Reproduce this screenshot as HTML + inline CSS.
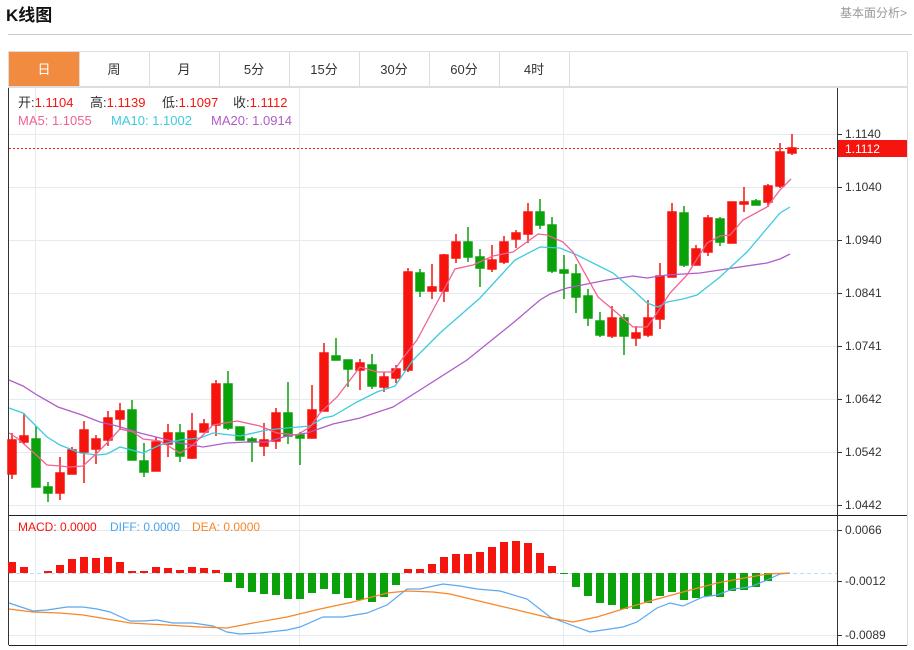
<!DOCTYPE html>
<html><head><meta charset="utf-8"><style>
body{margin:0;width:914px;height:650px;background:#fff;overflow:hidden;font-family:"Liberation Sans","Noto Sans CJK SC",sans-serif;}
svg text{font-family:"Liberation Sans","Noto Sans CJK SC",sans-serif;}
</style></head><body>
<svg width="914" height="650" xmlns="http://www.w3.org/2000/svg" style="position:absolute;left:0;top:0">
<text x="6" y="21" font-size="17" font-weight="bold" fill="#111">K线图</text>
<text x="907" y="17" font-size="12" fill="#999" text-anchor="end">基本面分析&gt;</text>
<line x1="8" y1="34.5" x2="912" y2="34.5" stroke="#ccc"/>
<rect x="8.5" y="51.5" width="899" height="35" fill="#fff" stroke="#ddd"/>
<rect x="9" y="52" width="70" height="34" fill="#f18b3f"/>
<g stroke="#ddd"><line x1="79.5" y1="52" x2="79.5" y2="86"/><line x1="149.5" y1="52" x2="149.5" y2="86"/><line x1="219.5" y1="52" x2="219.5" y2="86"/><line x1="289.5" y1="52" x2="289.5" y2="86"/><line x1="359.5" y1="52" x2="359.5" y2="86"/><line x1="429.5" y1="52" x2="429.5" y2="86"/><line x1="499.5" y1="52" x2="499.5" y2="86"/><line x1="569.5" y1="52" x2="569.5" y2="86"/></g>
<g font-size="13" text-anchor="middle" fill="#333"><text x="44" y="74" fill="#fff">日</text><text x="114" y="74">周</text><text x="184" y="74">月</text><text x="254" y="74">5分</text><text x="324" y="74">15分</text><text x="394" y="74">30分</text><text x="464" y="74">60分</text><text x="534" y="74">4时</text></g>
<rect x="8.5" y="87.5" width="899" height="558" fill="none" stroke="#ddd"/>
<g stroke="#e3eaf0"><line x1="9" y1="134.5" x2="837" y2="134.5"/><line x1="9" y1="187.5" x2="837" y2="187.5"/><line x1="9" y1="240.5" x2="837" y2="240.5"/><line x1="9" y1="293.5" x2="837" y2="293.5"/><line x1="9" y1="346.5" x2="837" y2="346.5"/><line x1="9" y1="399.5" x2="837" y2="399.5"/><line x1="9" y1="452.5" x2="837" y2="452.5"/><line x1="9" y1="505.5" x2="837" y2="505.5"/>
<line x1="9" y1="530.5" x2="837" y2="530.5"/><line x1="9" y1="581.5" x2="837" y2="581.5"/><line x1="9" y1="635.5" x2="837" y2="635.5"/>
<line x1="35.5" y1="88" x2="35.5" y2="645"/><line x1="299.5" y1="88" x2="299.5" y2="645"/><line x1="563.5" y1="88" x2="563.5" y2="645"/></g>
<line x1="8.5" y1="88" x2="8.5" y2="645" stroke="#333"/>
<line x1="9" y1="515.5" x2="907" y2="515.5" stroke="#222"/>
<line x1="9" y1="645.5" x2="907" y2="645.5" stroke="#222"/>
<line x1="837.5" y1="88" x2="837.5" y2="645" stroke="#333"/>
<g font-size="12" fill="#333"><text x="845" y="138">1.1140</text><text x="845" y="191">1.1040</text><text x="845" y="244">1.0940</text><text x="845" y="297">1.0841</text><text x="845" y="350">1.0741</text><text x="845" y="403">1.0642</text><text x="845" y="456">1.0542</text><text x="845" y="509">1.0442</text>
<text x="845" y="534">0.0066</text><text x="845" y="585">-0.0012</text><text x="845" y="639">-0.0089</text></g>
<g stroke="#333"><line x1="837" y1="134.5" x2="842" y2="134.5"/><line x1="837" y1="187.5" x2="842" y2="187.5"/><line x1="837" y1="240.5" x2="842" y2="240.5"/><line x1="837" y1="293.5" x2="842" y2="293.5"/><line x1="837" y1="346.5" x2="842" y2="346.5"/><line x1="837" y1="399.5" x2="842" y2="399.5"/><line x1="837" y1="452.5" x2="842" y2="452.5"/><line x1="837" y1="505.5" x2="842" y2="505.5"/><line x1="837" y1="530.5" x2="842" y2="530.5"/><line x1="837" y1="581.5" x2="842" y2="581.5"/><line x1="837" y1="635.5" x2="842" y2="635.5"/></g>
<g font-size="13">
<text x="18" y="107" fill="#333">开:<tspan fill="#f5140e">1.1104</tspan></text>
<text x="90" y="107" fill="#333">高:<tspan fill="#f5140e">1.1139</tspan></text>
<text x="162" y="107" fill="#333">低:<tspan fill="#f5140e">1.1097</tspan></text>
<text x="233" y="107" fill="#333">收:<tspan fill="#f5140e">1.1112</tspan></text>
<text x="18" y="125" fill="#f06292">MA5: 1.1055</text>
<text x="111" y="125" fill="#3ccbe0">MA10: 1.1002</text>
<text x="211" y="125" fill="#b05cc8">MA20: 1.0914</text>
</g>
<line x1="9" y1="148.5" x2="837" y2="148.5" stroke="#f5140e" stroke-dasharray="2,2"/>
<rect x="838" y="140" width="69" height="17" fill="#f5140e"/>
<text x="845" y="153" font-size="12" fill="#fff">1.1112</text>
<g stroke-width="1.5">
<g stroke="#f5140e" fill="#f5140e">
<line x1="12" y1="433" x2="12" y2="479"/><rect x="8" y="440" width="8" height="34"/>
<line x1="24" y1="413" x2="24" y2="444"/><rect x="20" y="436" width="8" height="6"/>
<line x1="60" y1="457" x2="60" y2="500"/><rect x="56" y="473" width="8" height="20"/>
<line x1="72" y1="447" x2="72" y2="474"/><rect x="68" y="450" width="8" height="24"/>
<line x1="84" y1="421" x2="84" y2="483"/><rect x="80" y="430" width="8" height="22"/>
<line x1="96" y1="435" x2="96" y2="464"/><rect x="92" y="439" width="8" height="10"/>
<line x1="108" y1="411" x2="108" y2="446"/><rect x="104" y="418" width="8" height="22"/>
<line x1="120" y1="403" x2="120" y2="430"/><rect x="116" y="411" width="8" height="8"/>
<line x1="156" y1="437" x2="156" y2="471"/><rect x="152" y="442" width="8" height="29"/>
<line x1="168" y1="424" x2="168" y2="457"/><rect x="164" y="433" width="8" height="11"/>
<line x1="192" y1="413" x2="192" y2="459"/><rect x="188" y="431" width="8" height="27"/>
<line x1="204" y1="419" x2="204" y2="432"/><rect x="200" y="424" width="8" height="8"/>
<line x1="216" y1="380" x2="216" y2="436"/><rect x="212" y="384" width="8" height="41"/>
<line x1="264" y1="423" x2="264" y2="456"/><rect x="260" y="440" width="8" height="6"/>
<line x1="276" y1="408" x2="276" y2="449"/><rect x="272" y="413" width="8" height="28"/>
<line x1="312" y1="385" x2="312" y2="438"/><rect x="308" y="410" width="8" height="28"/>
<line x1="324" y1="343" x2="324" y2="411"/><rect x="320" y="353" width="8" height="58"/>
<line x1="360" y1="359" x2="360" y2="390"/><rect x="356" y="363" width="8" height="7"/>
<line x1="384" y1="372" x2="384" y2="392"/><rect x="380" y="377" width="8" height="10"/>
<line x1="396" y1="365" x2="396" y2="383"/><rect x="392" y="369" width="8" height="9"/>
<line x1="408" y1="268" x2="408" y2="372"/><rect x="404" y="272" width="8" height="98"/>
<line x1="432" y1="264" x2="432" y2="299"/><rect x="428" y="287" width="8" height="4"/>
<line x1="444" y1="254" x2="444" y2="302"/><rect x="440" y="255" width="8" height="36"/>
<line x1="456" y1="234" x2="456" y2="263"/><rect x="452" y="242" width="8" height="16"/>
<line x1="492" y1="245" x2="492" y2="272"/><rect x="488" y="260" width="8" height="9"/>
<line x1="504" y1="236" x2="504" y2="264"/><rect x="500" y="242" width="8" height="20"/>
<line x1="516" y1="230" x2="516" y2="248"/><rect x="512" y="233" width="8" height="6"/>
<line x1="528" y1="203" x2="528" y2="243"/><rect x="524" y="212" width="8" height="22"/>
<line x1="612" y1="306" x2="612" y2="338"/><rect x="608" y="318" width="8" height="18"/>
<line x1="636" y1="326" x2="636" y2="346"/><rect x="632" y="333" width="8" height="5"/>
<line x1="648" y1="300" x2="648" y2="337"/><rect x="644" y="318" width="8" height="17"/>
<line x1="660" y1="263" x2="660" y2="329"/><rect x="656" y="276" width="8" height="43"/>
<line x1="672" y1="203" x2="672" y2="277"/><rect x="668" y="212" width="8" height="65"/>
<line x1="696" y1="245" x2="696" y2="265"/><rect x="692" y="249" width="8" height="16"/>
<line x1="708" y1="215" x2="708" y2="256"/><rect x="704" y="218" width="8" height="34"/>
<line x1="732" y1="202" x2="732" y2="243"/><rect x="728" y="202" width="8" height="41"/>
<line x1="744" y1="187" x2="744" y2="212"/><rect x="740" y="202" width="8" height="2"/>
<line x1="768" y1="184" x2="768" y2="207"/><rect x="764" y="186" width="8" height="16"/>
<line x1="780" y1="143" x2="780" y2="188"/><rect x="776" y="152" width="8" height="34"/>
<line x1="792" y1="134" x2="792" y2="155"/><rect x="788" y="148" width="8" height="5"/>
</g>
<g stroke="#0ba10b" fill="#0ba10b">
<line x1="36" y1="426" x2="36" y2="487"/><rect x="32" y="439" width="8" height="48"/>
<line x1="48" y1="482" x2="48" y2="502"/><rect x="44" y="487" width="8" height="6"/>
<line x1="132" y1="400" x2="132" y2="460"/><rect x="128" y="410" width="8" height="50"/>
<line x1="144" y1="443" x2="144" y2="477"/><rect x="140" y="461" width="8" height="11"/>
<line x1="180" y1="424" x2="180" y2="462"/><rect x="176" y="433" width="8" height="23"/>
<line x1="228" y1="371" x2="228" y2="430"/><rect x="224" y="384" width="8" height="44"/>
<line x1="240" y1="427" x2="240" y2="440"/><rect x="236" y="427" width="8" height="13"/>
<line x1="252" y1="437" x2="252" y2="462"/><rect x="248" y="439" width="8" height="3"/>
<line x1="288" y1="382" x2="288" y2="444"/><rect x="284" y="413" width="8" height="23"/>
<line x1="300" y1="432" x2="300" y2="465"/><rect x="296" y="435" width="8" height="3"/>
<line x1="336" y1="338" x2="336" y2="360"/><rect x="332" y="356" width="8" height="4"/>
<line x1="348" y1="360" x2="348" y2="387"/><rect x="344" y="360" width="8" height="9"/>
<line x1="372" y1="354" x2="372" y2="389"/><rect x="368" y="365" width="8" height="21"/>
<line x1="420" y1="269" x2="420" y2="297"/><rect x="416" y="273" width="8" height="18"/>
<line x1="468" y1="227" x2="468" y2="262"/><rect x="464" y="242" width="8" height="15"/>
<line x1="480" y1="249" x2="480" y2="287"/><rect x="476" y="257" width="8" height="11"/>
<line x1="540" y1="199" x2="540" y2="229"/><rect x="536" y="212" width="8" height="13"/>
<line x1="552" y1="217" x2="552" y2="273"/><rect x="548" y="225" width="8" height="46"/>
<line x1="564" y1="255" x2="564" y2="299"/><rect x="560" y="270" width="8" height="3"/>
<line x1="576" y1="264" x2="576" y2="313"/><rect x="572" y="274" width="8" height="23"/>
<line x1="588" y1="289" x2="588" y2="326"/><rect x="584" y="296" width="8" height="22"/>
<line x1="600" y1="312" x2="600" y2="337"/><rect x="596" y="321" width="8" height="14"/>
<line x1="624" y1="314" x2="624" y2="355"/><rect x="620" y="318" width="8" height="18"/>
<line x1="684" y1="206" x2="684" y2="267"/><rect x="680" y="213" width="8" height="52"/>
<line x1="720" y1="217" x2="720" y2="246"/><rect x="716" y="219" width="8" height="23"/>
<line x1="756" y1="199" x2="756" y2="205"/><rect x="752" y="201" width="8" height="4"/>
</g></g>
<g fill="none" stroke-width="1.3">
<polyline stroke="#b05cc8" points="9,380 23,386 37,395 58,407 82,415 100,422 117,426 140,433 160,438 180,443 203,447 227,443 247,442 267,442 287,436 307,433 333,424 360,418 393,407 420,390 467,360 513,323 540,300 550,294 567,288 607,280 633,276 647,278 667,275 700,273 733,268 767,263 780,259 790,254"/>
<polyline stroke="#3ccbe0" points="9,408 23,413 35,425 47,437 60,445 80,453 97,455 107,454 120,447 143,453 160,445 180,440 200,438 213,433 240,436 267,430 287,428 310,426 323,418 333,416 357,402 377,392 395,386 413,360 440,333 480,298 515,260 540,247 560,248 577,255 613,273 633,290 647,303 658,307 667,302 683,299 697,295 720,277 747,252 780,213 790,207"/>
<polyline stroke="#f06292" points="9,433 17,438 33,452 47,465 60,466 70,467 83,466 97,453 107,443 120,429 133,432 143,439 160,441 180,453 193,445 213,425 237,421 260,426 277,433 297,435 310,427 320,413 337,397 360,367 377,372 393,372 403,358 417,340 433,310 455,269 473,265 493,256 513,252 538,234 547,235 563,242 573,252 598,297 617,313 633,327 647,327 657,313 670,293 687,275 707,243 720,236 730,235 743,220 767,207 780,190 791,179"/>
</g>
<g font-size="12">
<text x="18" y="531" fill="#f5140e">MACD: 0.0000</text>
<text x="110" y="531" fill="#4aa3ef">DIFF: 0.0000</text>
<text x="192" y="531" fill="#f7862a">DEA: 0.0000</text>
</g>
<line x1="9" y1="573.5" x2="837" y2="573.5" stroke="#b8dcf0" stroke-dasharray="4,3"/>
<g fill="#f5140e">
<rect x="8" y="562" width="8" height="11"/><rect x="20" y="567" width="8" height="6"/><rect x="44" y="571" width="8" height="2"/><rect x="56" y="565" width="8" height="8"/><rect x="68" y="559" width="8" height="14"/><rect x="80" y="557" width="8" height="16"/><rect x="92" y="558" width="8" height="15"/><rect x="104" y="557" width="8" height="16"/><rect x="116" y="562" width="8" height="11"/><rect x="128" y="571" width="8" height="2"/><rect x="140" y="571" width="8" height="2"/><rect x="152" y="567" width="8" height="6"/><rect x="164" y="568" width="8" height="5"/><rect x="176" y="570" width="8" height="3"/><rect x="188" y="567" width="8" height="6"/><rect x="200" y="568" width="8" height="5"/><rect x="212" y="570" width="8" height="3"/>
<rect x="404" y="569" width="8" height="4"/><rect x="416" y="569" width="8" height="4"/><rect x="428" y="564" width="8" height="9"/><rect x="440" y="557" width="8" height="16"/><rect x="452" y="554" width="8" height="19"/><rect x="464" y="554" width="8" height="19"/><rect x="476" y="552" width="8" height="21"/><rect x="488" y="547" width="8" height="26"/><rect x="500" y="542" width="8" height="31"/><rect x="512" y="541" width="8" height="32"/><rect x="524" y="543" width="8" height="30"/><rect x="536" y="553" width="8" height="20"/><rect x="548" y="566" width="8" height="7"/>
</g>
<g fill="#0ba10b">
<rect x="224" y="573" width="8" height="9"/><rect x="236" y="573" width="8" height="15"/><rect x="248" y="573" width="8" height="19"/><rect x="260" y="573" width="8" height="21"/><rect x="272" y="573" width="8" height="22"/><rect x="284" y="573" width="8" height="26"/><rect x="296" y="573" width="8" height="26"/><rect x="308" y="573" width="8" height="20"/><rect x="320" y="573" width="8" height="16"/><rect x="332" y="573" width="8" height="21"/><rect x="344" y="573" width="8" height="25"/><rect x="356" y="573" width="8" height="27"/><rect x="368" y="573" width="8" height="29"/><rect x="380" y="573" width="8" height="24"/><rect x="392" y="573" width="8" height="12"/>
<rect x="560" y="573" width="8" height="1"/><rect x="572" y="573" width="8" height="14"/><rect x="584" y="573" width="8" height="23"/><rect x="596" y="573" width="8" height="30"/><rect x="608" y="573" width="8" height="32"/><rect x="620" y="573" width="8" height="36"/><rect x="632" y="573" width="8" height="36"/><rect x="644" y="573" width="8" height="30"/><rect x="656" y="573" width="8" height="23"/><rect x="668" y="573" width="8" height="19"/><rect x="680" y="573" width="8" height="27"/><rect x="692" y="573" width="8" height="25"/><rect x="704" y="573" width="8" height="23"/><rect x="716" y="573" width="8" height="24"/><rect x="728" y="573" width="8" height="18"/><rect x="740" y="573" width="8" height="17"/><rect x="752" y="573" width="8" height="14"/><rect x="764" y="573" width="8" height="8"/>
</g>
<g fill="none" stroke-width="1.2">
<polyline stroke="#5aa9ef" points="9,603 33,611 47,610 67,607 83,607 97,609 110,612 130,621 143,621 157,620 173,623 193,623 213,626 227,632 240,634 260,633 287,630 300,627 323,617 343,617 367,613 387,605 407,589 420,589 443,584 460,586 477,589 500,591 527,599 550,617 563,622 590,632 623,627 637,622 657,608 670,603 683,606 703,597 717,595 733,589 750,587 767,580 780,574 790,573"/>
<polyline stroke="#f7862a" points="9,609 33,612 60,613 83,615 107,619 130,623 167,625 200,627 227,628 253,623 287,617 320,609 353,602 387,593 407,591 433,592 450,594 483,602 517,610 550,618 573,622 597,617 623,609 650,601 683,592 717,583 750,577 767,574 790,573"/>
</g>
</svg>
</body></html>
